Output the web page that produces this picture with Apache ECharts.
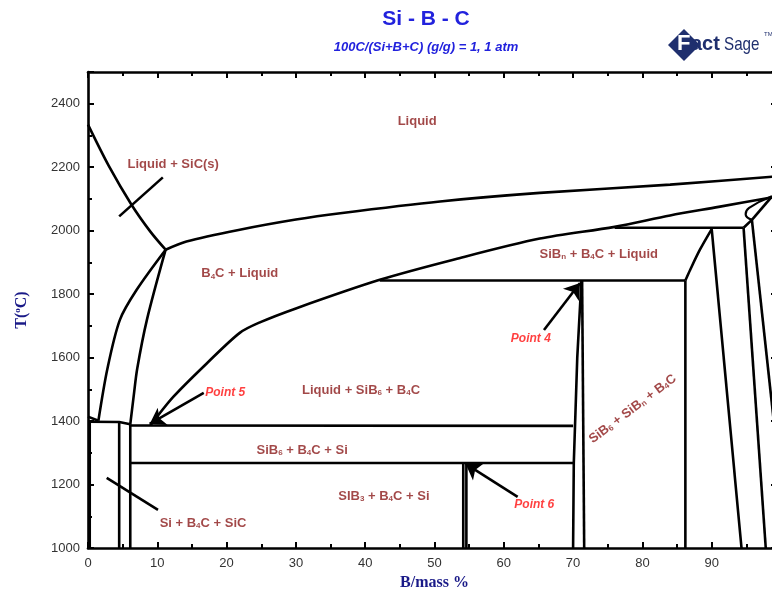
<!DOCTYPE html>
<html>
<head>
<meta charset="utf-8">
<script src="https://cdn.jsdelivr.net/npm/echarts@6/dist/echarts.min.js"></script>
<style>
  html, body { margin: 0; padding: 0; background: #fff; }
  #chart-container { width: 772px; height: 594px; }
</style>
</head>
<body>
<div id="chart-container"></div>
<script>
var dom = document.getElementById("chart-container");
var myChart = echarts.init(dom, null, { renderer: "canvas" });

// axis ticks
var xTicks = [0, 10, 20, 30, 40, 50, 60, 70, 80, 90, 100];
var yTicks = [1000, 1200, 1400, 1600, 1800, 2000, 2200, 2400];

// phase boundaries, [B mass %, T degC]
var liqSiC = [[0, 2334], [3, 2204], [6.3, 2081], [9, 1997], [11.2, 1940]];
var liqUpper = [[11.2, 1940], [14.2, 1966], [21.9, 2003], [30, 2035], [36.4, 2055], [50.8, 2092], [65.2, 2119], [84, 2145], [100, 2172]];
var liqLower = [[9, 1386], [12.3, 1476], [17.2, 1583], [21.9, 1678], [24.8, 1711], [30, 1755], [42.1, 1845], [53, 1910], [65.2, 1975], [76, 2012], [84, 2048], [91, 2075], [98.4, 2104], [100, 2110]];
var b4cOuter = [[1.5, 1401], [2.8, 1565], [4.6, 1719], [7.0, 1813], [11.2, 1940]];
var b4cInner = [[6.1, 1390], [6.6, 1480], [7.1, 1565], [8.5, 1719], [11.2, 1940]];
var siLiq = [[0, 1414], [1.5, 1401]];
var iso1400 = [[0, 1398], [4.5, 1397], [6.1, 1390]];
var iso1385 = [[6.1, 1386], [70, 1385]];
var iso1270 = [[6.1, 1268], [70, 1268]];
var iso1845 = [[42.1, 1843], [86.2, 1843]];
var iso2010 = [[76, 2009], [94.6, 2009]];
var vSi = [[0.25, 1000], [0.25, 1398]];
var v45 = [[4.5, 1000], [4.5, 1397]];
var v61 = [[6.1, 1000], [6.1, 1390]];
var vSiB3a = [[54.15, 1000], [54.15, 1268]];
var vSiB3b = [[54.6, 1000], [54.6, 1268]];
var vSiB6a = [[70, 1000], [70.1, 1268], [70.3, 1400], [70.6, 1600], [71.2, 1843]];
var vSiB6b = [[71.6, 1000], [71.3, 1843]];
var v86 = [[86.2, 1000], [86.2, 1843]];
var curve86 = [[86.2, 1843], [86.9, 1877], [88.3, 1940], [90, 2005]];
var lineA = [[90, 2005], [94.3, 1000]];
var lineB = [[94.6, 2009], [97.8, 1000]];
var lineC = [[95.8, 2034], [100, 1190]];
var linkBC = [[94.6, 2009], [95.8, 2034]];
var loopOuter = [[95.8, 2034], [98.7, 2108]];
var loopInner = [[95.8, 2034], [94.9, 2052], [95.4, 2072], [98.7, 2108]];
var tieLiqSiC = [[4.5, 2045], [10.8, 2168]];
var tieSiC = [[2.7, 1221], [10.1, 1120]];

// arrows to the invariant points
var arrowLines = [
  [[65.8, 1687], [71.0, 1835]],
  [[16.7, 1489], [8.9, 1391]],
  [[62.0, 1161], [54.5, 1265]]
];

// region labels: text, x, T, rotate
var phaseLabels = [
  ["Liquid", 47.5, 2343, 0],
  ["Liquid + SiC(s)", 12.3, 2208, 0],
  ["B{s|4}C + Liquid", 21.9, 1864, 0],
  ["SiB{s|n} + B{s|4}C + Liquid", 73.7, 1924, 0],
  ["Liquid + SiB{s|6} + B{s|4}C", 39.4, 1498, 0],
  ["SiB{s|6} + B{s|4}C + Si", 30.9, 1309, 0],
  ["SIB{s|3} + B{s|4}C + Si", 42.7, 1164, 0],
  ["Si + B{s|4}C + SiC", 16.6, 1079, 0],
  ["SiB{s|6} + SiB{s|n} + B{s|4}C", 78.6, 1438, 37]
];
var pointLabels = [
  ["Point 4", 63.9, 1659],
  ["Point 5", 19.8, 1489],
  ["Point 6", 64.4, 1136]
];

var curves = [liqSiC, liqUpper, liqLower, b4cOuter, b4cInner, curve86];
var straights = [siLiq, iso1400, iso1385, iso1270, iso1845, iso2010, vSi, v45, v61,
  vSiB3a, vSiB3b, vSiB6a, vSiB6b, v86, lineA, lineB, lineC, linkBC, loopOuter,
  tieLiqSiC, tieSiC];

var series = [];
curves.forEach(function (d) {
  series.push({
    type: "line", data: d, smooth: 0.3, showSymbol: false, silent: true,
    lineStyle: { color: "#000", width: 2.6 }
  });
});
series.push({
  type: "line", data: loopInner, smooth: 0.5, showSymbol: false, silent: true,
  lineStyle: { color: "#000", width: 2.2 }
});
straights.forEach(function (d) {
  series.push({
    type: "line", data: d, showSymbol: false, silent: true,
    lineStyle: { color: "#000", width: 2.6 }
  });
});
series.push({
  type: "lines",
  coordinateSystem: "cartesian2d",
  symbol: ["none", "arrow"],
  symbolSize: [0, 15],
  lineStyle: { color: "#000", width: 2.6, opacity: 1 },
  data: arrowLines.map(function (c) { return { coords: c }; }),
  silent: true
});

var subRich = {
  s: { fontSize: 8, fontWeight: "bold", color: "#8b1a1a", padding: [5, 0, 0, 0], fontFamily: "Liberation Sans" }
};
series.push({
  type: "scatter",
  symbolSize: 0,
  silent: true,
  data: phaseLabels.map(function (p) {
    return {
      value: [p[1], p[2]],
      label: { formatter: p[0], rotate: p[3] }
    };
  }),
  label: {
    show: true, position: "inside",
    fontFamily: "Liberation Sans", fontSize: 13, fontWeight: "bold", color: "#8b1a1a",
    rich: subRich
  }
});
series.push({
  type: "scatter",
  symbolSize: 0,
  silent: true,
  data: pointLabels.map(function (p) {
    return { value: [p[1], p[2]], label: { formatter: p[0] } };
  }),
  label: {
    show: true, position: "inside",
    fontFamily: "Liberation Sans", fontSize: 12, fontWeight: "bold", fontStyle: "italic", color: "#ff1010"
  }
});

function axisFrame(tickLen) {
  return {
    axisLine: { onZero: false, lineStyle: { color: "#000", width: 2.6 } },
    axisTick: { inside: true, length: tickLen, lineStyle: { color: "#000", width: 2 } },
    minorTick: { show: true, splitNumber: 2, length: 4, lineStyle: { color: "#000", width: 2 } },
    splitLine: { show: false }
  };
}

var option = {
  animation: false,
  title: [
    {
      text: "Si - B - C", left: 421, top: 4, textAlign: "center",
      textStyle: { color: "#2222dd", fontSize: 21, fontWeight: "bold", fontFamily: "Liberation Sans" }
    },
    {
      text: "100C/(Si+B+C) (g/g) = 1, 1 atm", left: 421, top: 36, textAlign: "center",
      textStyle: { color: "#2222dd", fontSize: 13, fontWeight: "bold", fontStyle: "italic", fontFamily: "Liberation Sans" }
    }
  ],
  graphic: [
    { type: "polygon", shape: { points: [[668, 45], [684, 29], [700, 45], [684, 61]] }, style: { fill: "#1f2f6e" } },
    { type: "text", left: 677, top: 33, style: { text: "F", fill: "#fff", font: "bold 22px Liberation Sans" } },
    { type: "text", left: 691, top: 34, style: { text: "act", fill: "#1f2f6e", font: "bold 20px Liberation Sans" } },
    { type: "text", left: 724, top: 35, scaleX: 0.8, style: { text: "Sage", fill: "#1f2f6e", font: "19px Liberation Sans" } },
    { type: "text", left: 764, top: 31, style: { text: "TM", fill: "#1f2f6e", font: "6px Liberation Sans" } }
  ],
  grid: { left: 88, top: 72, width: 693, height: 476, outerBoundsMode: "none", containLabel: false },
  xAxis: [
    Object.assign({
      type: "value", min: xTicks[0], max: xTicks[xTicks.length - 1], interval: 10,
      position: "bottom",
      name: "B/mass %", nameLocation: "middle", nameGap: 26,
      nameTextStyle: { color: "#1a1a88", fontSize: 16, fontWeight: "bold", fontFamily: "Liberation Serif" },
      axisLabel: { color: "#333", fontSize: 13, fontFamily: "Liberation Sans", margin: 9, showMaxLabel: false }
    }, axisFrame(6)),
    Object.assign({
      type: "value", min: 0, max: 100, interval: 10, position: "top",
      axisLabel: { show: false }
    }, axisFrame(6))
  ],
  yAxis: [
    Object.assign({
      type: "value", min: yTicks[0], max: 2500, interval: 200, position: "left",
      name: "T({o|o}C)", nameLocation: "middle", nameGap: 58,
      nameTextStyle: {
        color: "#1a1a88", fontSize: 16, fontWeight: "bold", fontFamily: "Liberation Serif",
        rich: { o: { fontSize: 9, fontWeight: "bold", color: "#1a1a88", fontFamily: "Liberation Serif", padding: [0, 0, 8, 0] } }
      },
      axisLabel: {
        color: "#333", fontSize: 13, fontFamily: "Liberation Sans", margin: 8, showMaxLabel: false,
        formatter: function (v) { return String(v); }
      }
    }, axisFrame(6)),
    Object.assign({
      type: "value", min: 1000, max: 2500, interval: 200, position: "right",
      axisLabel: { show: false }
    }, axisFrame(10))
  ],
  series: series
};

myChart.setOption(option);
window.addEventListener("resize", myChart.resize);
</script>
</body>
</html>
